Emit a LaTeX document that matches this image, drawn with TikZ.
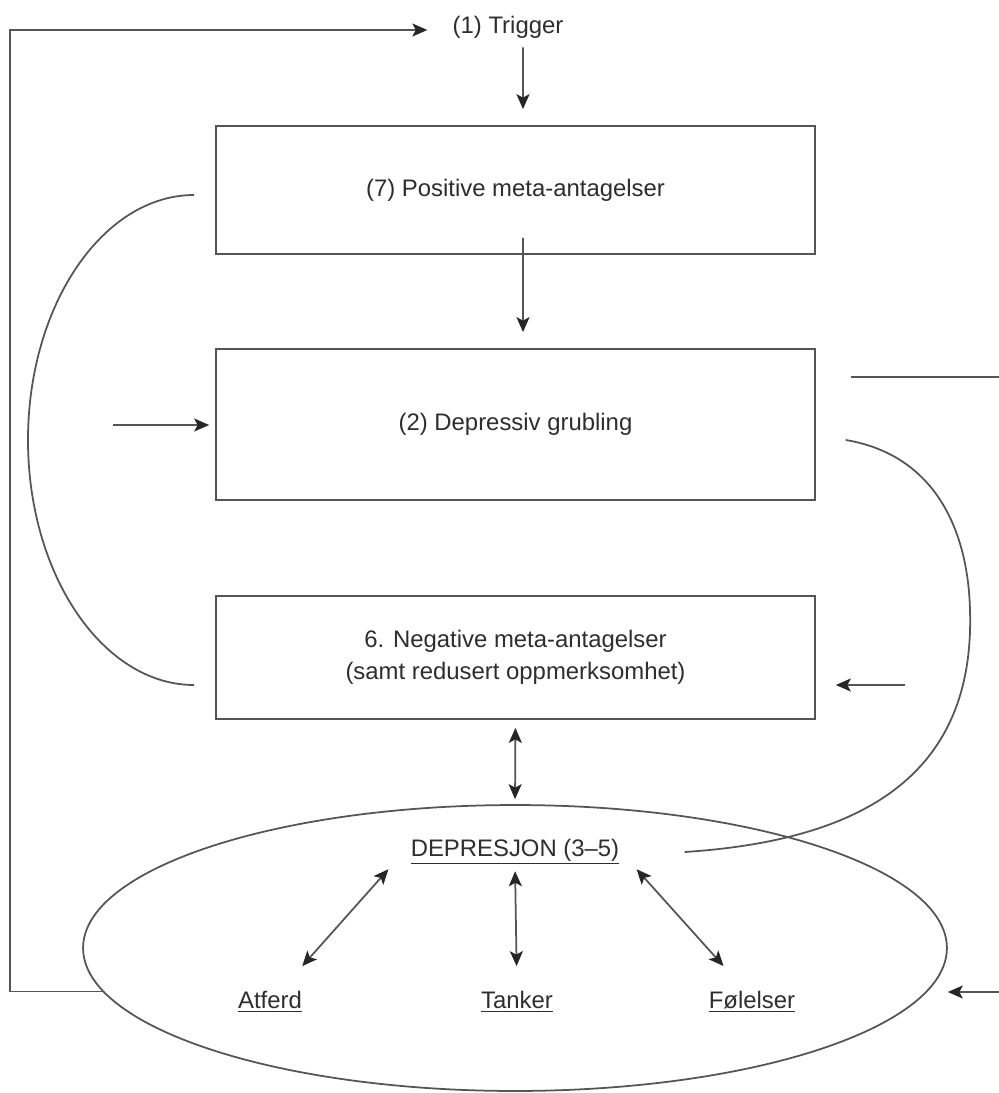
\documentclass[tikz,border=0pt]{standalone}
\usepackage{fontspec}
\setmainfont{Liberation Sans}
\usetikzlibrary{arrows.meta,shapes.geometric}
\definecolor{linegray}{HTML}{555555}
\definecolor{txtgray}{HTML}{2e2e2e}
\tikzset{
  box/.style={draw=linegray, line width=1pt, minimum width=11.98cm, inner sep=0pt, align=center},
  lbl/.style={inner sep=0pt, text=txtgray, font=\fontsize{13.6}{18}\selectfont},
  ln/.style={draw=linegray, line width=1pt},
  tip/.style={Stealth[length=0.3cm, width=0.26cm, inset=0.07cm, color=black!85]},
  arr/.style={ln, -{Stealth[length=0.3cm, width=0.26cm, inset=0.07cm, color=black!85]}},
  darr/.style={ln, {Stealth[length=0.3cm, width=0.26cm, inset=0.07cm, color=black!85]}-{Stealth[length=0.3cm, width=0.26cm, inset=0.07cm, color=black!85]}}
}
\begin{document}
\begin{tikzpicture}[x=0.02cm, y=-0.02cm]
  \useasboundingbox[fill=white] (0,0) rectangle (999,1093);
  \node[lbl] (trig) at (508,27) {(1) Trigger};
  \node[box, minimum height=2.56cm, lbl] (pos) at (515.5,190) {(7) Positive meta-antagelser};
  \node[box, minimum height=3.02cm, lbl] (grub) at (515.5,424.5) {(2) Depressiv grubling};
  \node[box, minimum height=2.46cm, lbl] (neg) at (515.5,657.5) {6. Negative meta-antagelser\\(samt redusert oppmerksomhet)};
  \node[draw=linegray, line width=1pt, ellipse, minimum width=17.28cm, minimum height=5.72cm, inner sep=0pt] (dep) at (515,948) {};
  \node[lbl] (deptxt) at (515,852) {\underline{DEPRESJON (3--5)}};
  \node[lbl] (atf) at (270,1002) {\underline{Atferd}};
  \node[lbl] (tank) at (517,1002) {\underline{Tanker}};
  \node[lbl] (fol) at (752,1002) {\underline{Følelser}};
  \coordinate (corner) at (10,30);
  \coordinate (inL) at (113,425);
  \coordinate (outR) at (999,377);
  \coordinate (inR) at (905,685);
  \coordinate (inE) at (999,992);
  % feedback loop back to the trigger
  \draw[arr, shorten >=0.5cm] (dep.186) -| (corner) -- (corner -| trig.west);
  \draw[arr, shorten <=0.18cm, shorten >=0.32cm] ([xshift=0.3cm]trig.south) -- ([xshift=0.15cm]pos.north);
  \draw[arr, shorten >=0.32cm] ([shift={(7.5,-17)}]pos.south) -- ([xshift=0.15cm]grub.north);
  \draw[arr, shorten >=0.12cm] (inL) -- (grub.west |- inL);
  \draw[ln, shorten <=0.7cm] (grub.east |- outR) -- (outR);
  \draw[arr, shorten >=0.4cm] (inR) -- (neg.east |- inR);
  \draw[arr] (inE) -- (dep.east |- inE);
  \draw[darr, shorten <=0.16cm, shorten >=0.1cm] (neg.south) -- (dep.north);
  % curved links
  \draw[ln] ([shift={(-21,5)}]pos.west) .. controls (103,195) and (28,305) .. (28,440)
    .. controls (28,575) and (103,685) .. ([shift={(-21,27.5)}]neg.west);
  \draw[ln] ([shift={(30,15.5)}]grub.east) .. controls (935,455) and (968,530) .. (970,610)
    .. controls (975,770) and (870,840) .. ([xshift=1.3cm]deptxt.east);
  % inside the ellipse
  \draw[darr] ([shift={(-22,4)}]deptxt.south west) -- ([shift={(0,-25)}]atf.north east);
  \draw[darr, shorten <=0.12cm, shorten >=0.5cm] (deptxt.south) -- (tank.north);
  \draw[darr] ([shift={(17,4)}]deptxt.south east) -- ([shift={(15,-25)}]fol.north west);
\end{tikzpicture}
\end{document}
